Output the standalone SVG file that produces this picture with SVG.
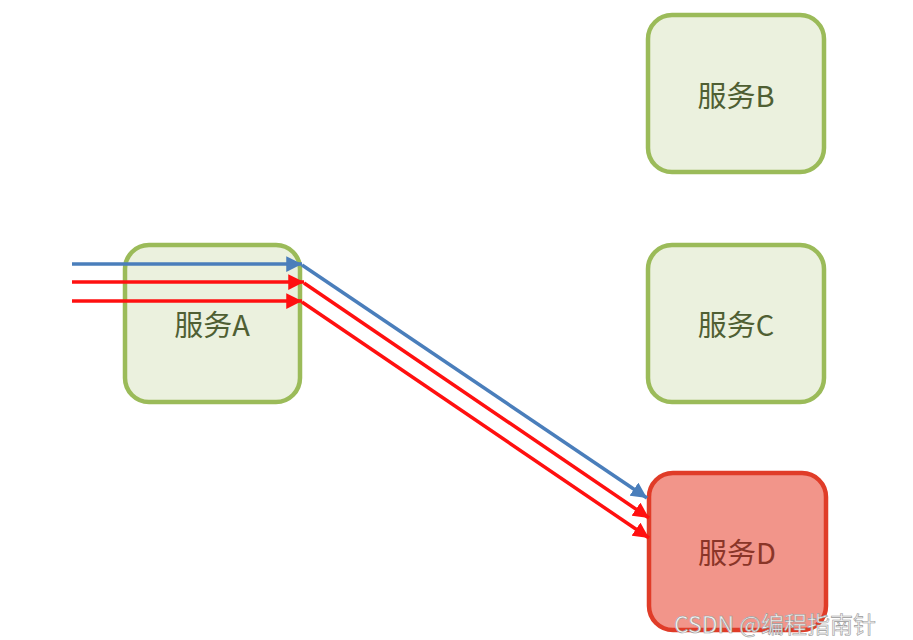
<svg xmlns="http://www.w3.org/2000/svg" width="913" height="640" viewBox="0 0 913 640">
<style>
.node{fill:#ebf1de;stroke:#9bbb59;stroke-width:4.5}
.nodeD{fill:#f2958a;stroke:#e03c28;stroke-width:4.5}
.lbl{font-family:"Noto Sans CJK SC","Noto Sans",sans-serif;font-size:29px;text-anchor:middle;dominant-baseline:central;fill:#4f5f33}
.lblD{fill:#8a3528}
.blue{fill:none;stroke:#4a7ebb;stroke-width:3.5}
.red{fill:none;stroke:#ff1010;stroke-width:3.5}
.wm{font-family:"Noto Sans CJK SC","Noto Sans",sans-serif;font-size:23px;fill:#f4f4f4;stroke:#9a9a9a;stroke-width:0.6}
</style>
<defs>
<marker id="ab" viewBox="0 0 10 10" refX="10" refY="5" markerWidth="4.5" markerHeight="4.5" orient="auto" markerUnits="strokeWidth"><path d="M0,0L10,5L0,10z" fill="#4a7ebb"/></marker>
<marker id="ar" viewBox="0 0 10 10" refX="10" refY="5" markerWidth="4.5" markerHeight="4.5" orient="auto" markerUnits="strokeWidth"><path d="M0,0L10,5L0,10z" fill="#ff1010"/></marker>
</defs>
<rect width="913" height="640" fill="#ffffff"/>
<g id="nodeA"><rect class="node" x="125" y="245" width="175" height="157" rx="24"/><text class="lbl" x="212" y="323">服务A</text></g>
<g id="nodeB"><rect class="node" x="648" y="15" width="176" height="157" rx="24"/><text class="lbl" x="736" y="94">服务B</text></g>
<g id="nodeC"><rect class="node" x="648" y="245" width="176" height="157" rx="24"/><text class="lbl" x="736" y="323">服务C</text></g>
<g id="nodeD"><rect class="nodeD" x="649" y="473" width="177" height="157" rx="24"/><text class="lbl lblD" x="737" y="551">服务D</text></g>
<g id="connectors">
<path class="blue" d="M72,264L302,264" marker-end="url(#ab)"/>
<path class="blue" d="M302,265L647,498" marker-end="url(#ab)"/>
<path class="red" d="M72,282L304,282" marker-end="url(#ar)"/>
<path class="red" d="M304,283L649,518" marker-end="url(#ar)"/>
<path class="red" d="M72,301L302,301" marker-end="url(#ar)"/>
<path class="red" d="M302,302L649,538" marker-end="url(#ar)"/>
</g>
<text class="wm" x="674" y="633">CSDN @编程指南针</text>
</svg>
